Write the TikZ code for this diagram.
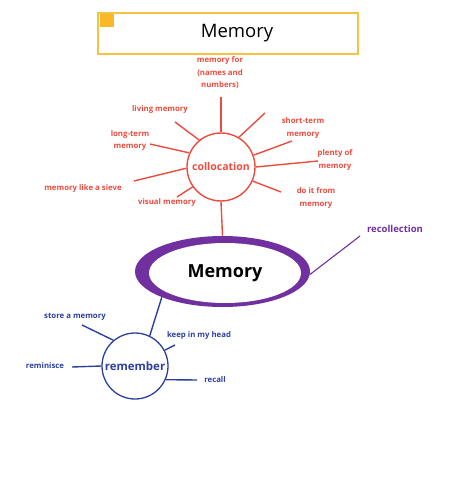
\documentclass[tikz,border=0pt]{standalone}
\usepackage{fontspec}
\setmainfont{Open Sans}
\usetikzlibrary{shapes.geometric}
\definecolor{cred}{RGB}{236,76,62}
\definecolor{cblue}{RGB}{44,64,160}
\definecolor{cpurple}{RGB}{112,48,160}
\definecolor{cyel}{RGB}{245,195,65}
\definecolor{corange}{RGB}{247,185,40}
\tikzset{
  redlab/.style={text=cred,font=\fontsize{7.8}{12.5}\selectfont\bfseries,align=center,inner sep=0pt},
  bluelab/.style={text=cblue,font=\fontsize{7.8}{12.5}\selectfont\bfseries,align=center,inner sep=0pt},
  redline/.style={draw=cred,line width=1.4pt},
  blueline/.style={draw=cblue,line width=1.4pt},
  purpleline/.style={draw=cpurple,line width=1.1pt},
}
\begin{document}
\begin{tikzpicture}[x=1pt,y=-1pt]
\useasboundingbox (0,0) rectangle (474,484);
% title
\node[draw=cyel,line width=2pt,minimum width=260pt,minimum height=41pt,inner sep=0pt,anchor=north west] (title) at (97,12) {};
\node[inner sep=0pt,font=\fontsize{18.5}{22}\selectfont] (ttext) at (237,33) {Memory};
\node[fill=corange,minimum width=14pt,minimum height=13pt,inner sep=0pt,anchor=north west] (sq) at (100,14) {};
% central ellipse
\node[ellipse,fill=cpurple,minimum width=175pt,minimum height=71pt,inner sep=0pt] (mem) at (222.5,271.5) {};
\node[ellipse,fill=white,minimum width=152pt,minimum height=60pt,inner sep=0pt,font=\fontsize{18}{19}\selectfont\bfseries] (memin) at (225,273) {Memory};
% collocation
\node[circle,draw=cred,line width=1.4pt,minimum size=68pt,inner sep=0pt,text=cred,font=\fontsize{10.5}{12}\selectfont\bfseries] (coll) at (221,167) {collocation};
\node[redlab] (l1) at (220,73) {memory for\\(names and\\numbers)};
\node[redlab] (l2) at (160,109) {living memory};
\node[redlab] (l3) at (130,140.5) {long-term\\memory};
\node[redlab] (l4) at (83,188) {memory like a sieve};
\node[redlab] (l5) at (167,202) {visual memory};
\node[redlab] (l6) at (303,128) {short-term\\memory};
\node[redlab] (l7) at (335,160) {plenty of\\memory};
\node[redlab] (l8) at (316,198) {do it from\\memory};
\coordinate (e1) at (221,97);
\coordinate (e2) at (175,122);
\coordinate (e3) at (150,144);
\coordinate (e4) at (134,181);
\coordinate (e5) at (177,197);
\coordinate (e9) at (265,113);
\coordinate (e6) at (292,141);
\coordinate (e7) at (318,161);
\coordinate (e8) at (281,192);
\draw[redline] (coll.90) -- (e1);
\draw[redline] (coll.129) -- (e2);
\draw[redline] (coll.156) -- (e3);
\draw[redline] (coll.182) -- (e4);
\draw[redline] (coll.215) -- (e5);
\draw[redline] (coll.59) -- (e9);
\draw[redline] (coll.20) -- (e6);
\draw[redline] (coll.0) -- (e7);
\draw[redline] (coll.-24) -- (e8);
\draw[redline] (coll.270) -- (mem.90);
% recollection
\node[text=cpurple,font=\fontsize{9.5}{11}\selectfont\bfseries,inner sep=0pt] (rec) at (395,229) {recollection};
\coordinate (erec) at (360,236);
\draw[purpleline] (mem.358) -- (erec);
% remember
\node[circle,draw=cblue,line width=1.3pt,minimum size=66pt,inner sep=0pt,text=cblue,font=\fontsize{11.5}{13}\selectfont\bfseries] (rem) at (135,366) {remember};
\draw[blueline] (mem.203) -- (rem.64);
\node[bluelab] (b1) at (75,317) {store a memory};
\node[bluelab] (b2) at (199,335) {keep in my head};
\node[bluelab] (b3) at (45,366) {reminisce};
\node[bluelab] (b4) at (215,380) {recall};
\coordinate (f1) at (82,325);
\coordinate (f2) at (175,345);
\coordinate (f3) at (72,367);
\coordinate (f4) at (197,380);
\draw[blueline] (rem.130) -- (f1);
\draw[blueline] (rem.28) -- (f2);
\draw[blueline] (rem.180) -- (f3);
\draw[blueline] (rem.-24) -- (f4);
\end{tikzpicture}
\end{document}
